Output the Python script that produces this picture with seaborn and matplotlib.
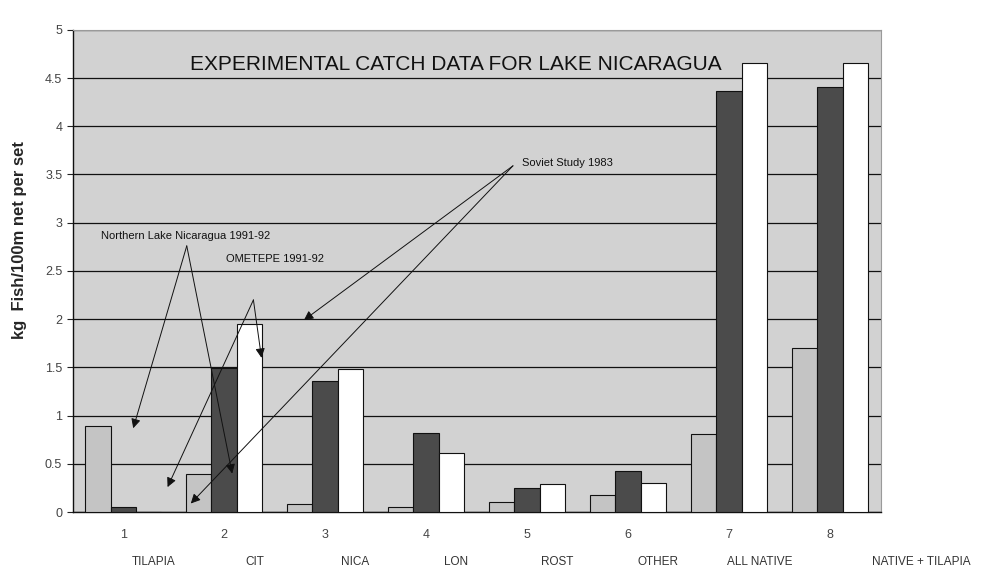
import numpy as np
import pandas as pd
import matplotlib
matplotlib.use("Agg")
import matplotlib.pyplot as plt
import seaborn as sns

# data
categories = ["1", "2", "3", "4", "5", "6", "7", "8"]
names = ["TILAPIA", "CIT", "NICA", "LON", "ROST", "OTHER", "ALL NATIVE", "NATIVE + TILAPIA"]
series = ["Northern Lake Nicaragua 1991-92", "OMETEPE 1991-92", "Soviet Study 1983"]
northern = [0.89, 0.40, 0.08, 0.05, 0.11, 0.18, 0.81, 1.70]
ometepe = [0.05, 1.49, 1.36, 0.82, 0.25, 0.43, 4.37, 4.41]
soviet = [0.0, 1.95, 1.48, 0.61, 0.29, 0.30, 4.66, 4.66]
yticks = [0, 0.5, 1, 1.5, 2, 2.5, 3, 3.5, 4, 4.5, 5]
ytick_labels = ["0", "0.5", "1", "1.5", "2", "2.5", "3", "3.5", "4", "4.5", "5"]

df = pd.DataFrame({
    "cat": categories * 3,
    "series": [s for s in series for _ in categories],
    "value": northern + ometepe + soviet,
})

sns.set_style("white")
plt.rcParams['font.family'] = ['Liberation Sans', 'DejaVu Sans']

fig = plt.figure(figsize=(9.95, 5.84), dpi=100)
ax = fig.add_axes([0.073, 0.123, 0.812, 0.826])
ax.set_facecolor("#d2d2d2")

pal = {series[0]: "#c4c4c4", series[1]: "#4b4b4b", series[2]: "#ffffff"}
sns.barplot(data=df, x="cat", y="value", hue="series", order=categories,
            hue_order=series, palette=pal, width=0.75, saturation=1,
            edgecolor="#111111", linewidth=0.8, legend=False, ax=ax, zorder=3)

ax.set_ylim(0, 5)
ax.set_xlim(-0.5, 7.5)
ax.set_yticks(yticks)
ax.set_yticklabels(ytick_labels, fontsize=9, color="#444444")
ax.yaxis.grid(True, color="#111111", linewidth=0.9, zorder=0)
ax.set_axisbelow(True)

ax.set_xticks(range(len(categories)))
ax.set_xticklabels(categories, fontsize=9, color="#444444")
ax.tick_params(axis="x", length=0, pad=12)
ax.set_xticks(np.arange(0.5, len(categories), 1), minor=True)
ax.tick_params(axis="x", which="minor", length=5, width=0.8, color="#222222", direction="out")
ax.tick_params(axis="y", length=4, width=0.8, color="#222222", direction="out", left=True)

for side in ["left", "bottom"]:
    ax.spines[side].set_color("#111111")
    ax.spines[side].set_linewidth(1.0)
for side in ["top", "right"]:
    ax.spines[side].set_color("#9a9a9a")
    ax.spines[side].set_linewidth(0.8)

ax.set_xlabel("")
ax.set_ylabel("kg  Fish/100m net per set", fontsize=12, fontweight="bold")
ax.yaxis.set_label_coords(-0.056, 0.564)

# category names below the tick numbers
for i, nm in enumerate(names):
    dx = 0.9 if i == 7 else 0.3
    ax.text(i + dx, -0.09, nm, transform=ax.get_xaxis_transform(),
            ha="center", va="top", fontsize=8.5, color="#333333")

ax.text(3.29, 4.64, "EXPERIMENTAL CATCH DATA FOR LAKE NICARAGUA",
        ha="center", va="center", fontsize=15, color="#111111", zorder=5)

# annotations with arrows
arrow = dict(arrowstyle="-|>", color="#111111", lw=0.7, mutation_scale=14,
             shrinkA=0, shrinkB=0)

ax.text(0.62, 2.86, series[0], ha="center", va="center", fontsize=8, color="#111111", zorder=5)
for tip in [(0.10, 0.87), (1.08, 0.40)]:
    ax.annotate("", xy=tip, xytext=(0.63, 2.76), arrowprops=arrow, zorder=6)

ax.text(1.5, 2.62, series[1], ha="center", va="center", fontsize=8, color="#111111", zorder=5)
for tip in [(0.44, 0.26), (1.37, 1.60)]:
    ax.annotate("", xy=tip, xytext=(1.29, 2.2), arrowprops=arrow, zorder=6)

ax.text(3.95, 3.62, series[2], ha="left", va="center", fontsize=8, color="#111111", zorder=5)
for tip in [(1.79, 1.99), (0.67, 0.09)]:
    ax.annotate("", xy=tip, xytext=(3.86, 3.59), arrowprops=arrow, zorder=6)

fig.savefig("out.png", dpi=100)
